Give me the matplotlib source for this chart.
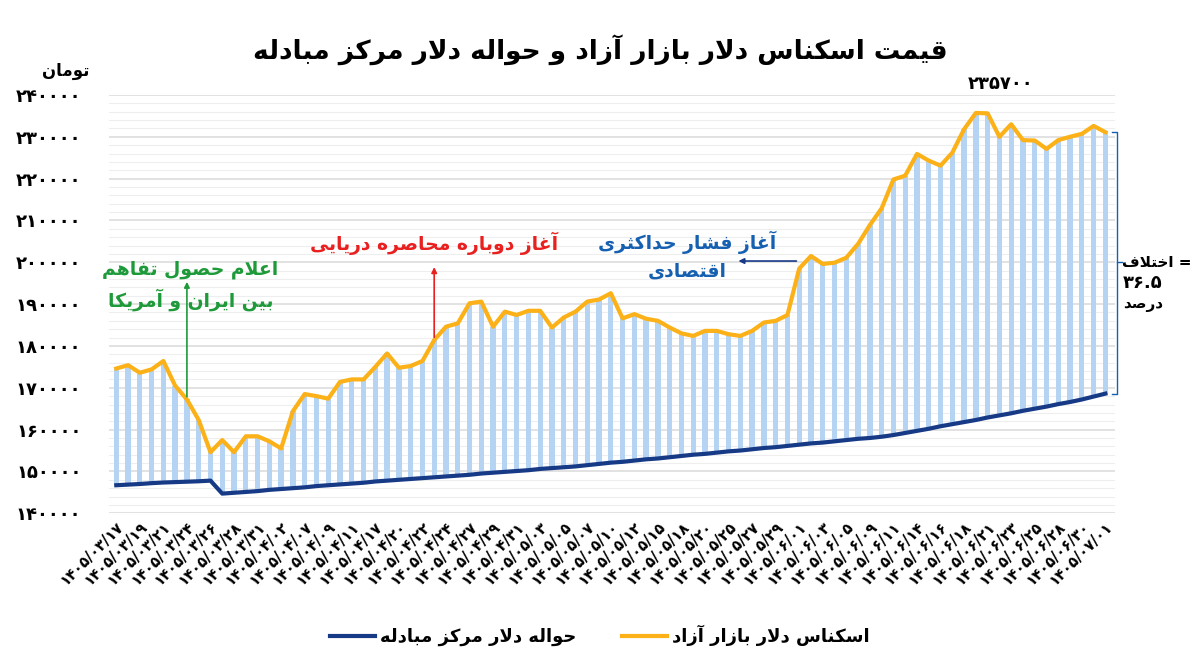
import matplotlib
matplotlib.use("Agg")
import matplotlib.pyplot as plt
from matplotlib.lines import Line2D
import numpy as np

# ---------- minimal Persian shaper ----------
FORMS = {
 'ا':('\uFE8D','\uFE8E',None,None),'آ':('\uFE81','\uFE82',None,None),
 'ب':('\uFE8F','\uFE90','\uFE91','\uFE92'),'پ':('\uFB56','\uFB57','\uFB58','\uFB59'),
 'ت':('\uFE95','\uFE96','\uFE97','\uFE98'),'ث':('\uFE99','\uFE9A','\uFE9B','\uFE9C'),
 'ج':('\uFE9D','\uFE9E','\uFE9F','\uFEA0'),'چ':('\uFB7A','\uFB7B','\uFB7C','\uFB7D'),
 'ح':('\uFEA1','\uFEA2','\uFEA3','\uFEA4'),'خ':('\uFEA5','\uFEA6','\uFEA7','\uFEA8'),
 'د':('\uFEA9','\uFEAA',None,None),'ذ':('\uFEAB','\uFEAC',None,None),
 'ر':('\uFEAD','\uFEAE',None,None),'ز':('\uFEAF','\uFEB0',None,None),
 'ژ':('\uFB8A','\uFB8B',None,None),
 'س':('\uFEB1','\uFEB2','\uFEB3','\uFEB4'),'ش':('\uFEB5','\uFEB6','\uFEB7','\uFEB8'),
 'ص':('\uFEB9','\uFEBA','\uFEBB','\uFEBC'),'ض':('\uFEBD','\uFEBE','\uFEBF','\uFEC0'),
 'ط':('\uFEC1','\uFEC2','\uFEC3','\uFEC4'),'ظ':('\uFEC5','\uFEC6','\uFEC7','\uFEC8'),
 'ع':('\uFEC9','\uFECA','\uFECB','\uFECC'),'غ':('\uFECD','\uFECE','\uFECF','\uFED0'),
 'ف':('\uFED1','\uFED2','\uFED3','\uFED4'),'ق':('\uFED5','\uFED6','\uFED7','\uFED8'),
 'ک':('\uFB8E','\uFB8F','\uFB90','\uFB91'),'گ':('\uFB92','\uFB93','\uFB94','\uFB95'),
 'ل':('\uFEDD','\uFEDE','\uFEDF','\uFEE0'),'م':('\uFEE1','\uFEE2','\uFEE3','\uFEE4'),
 'ن':('\uFEE5','\uFEE6','\uFEE7','\uFEE8'),'و':('\uFEED','\uFEEE',None,None),
 'ه':('\uFEE9','\uFEEA','\uFEEB','\uFEEC'),'ی':('\uFBFC','\uFBFD','\uFBFE','\uFBFF'),
 'LA':('\uFEFB','\uFEFC',None,None),'LAA':('\uFEF5','\uFEF6',None,None),
}
def dual(c): return c in FORMS and FORMS[c][2] is not None
def joins(c): return c in FORMS

def shape(word):
    chars = []
    i = 0
    while i < len(word):
        c = word[i]
        if c == 'ل' and i + 1 < len(word) and word[i+1] in 'اآ':
            chars.append('LA' if word[i+1] == 'ا' else 'LAA'); i += 2
        else:
            chars.append(c); i += 1
    out = []
    for k, c in enumerate(chars):
        if c not in FORMS:
            out.append(c); continue
        prev = chars[k-1] if k > 0 else None
        nxt = chars[k+1] if k + 1 < len(chars) else None
        jp = prev is not None and dual(prev)
        jn = dual(c) and nxt is not None and joins(nxt)
        f = FORMS[c]
        if jp and jn: out.append(f[3])
        elif jp: out.append(f[1])
        elif jn: out.append(f[2])
        else: out.append(f[0])
    return ''.join(out)

def fa(text):
    return '\n'.join(shape(line)[::-1] for line in text.split('\n'))

PD = str.maketrans('0123456789', '۰۱۲۳۴۵۶۷۸۹')
def pd(s): return str(s).translate(PD)

# ---------- data ----------
dates = ['1405/03/17','1405/03/19','1405/03/21','1405/03/24','1405/03/26','1405/03/28',
         '1405/03/31','1405/04/02','1405/04/07','1405/04/09','1405/04/11','1405/04/17',
         '1405/04/20','1405/04/22','1405/04/24','1405/04/27','1405/04/29','1405/04/31',
         '1405/05/03','1405/05/05','1405/05/07','1405/05/10','1405/05/12','1405/05/15',
         '1405/05/18','1405/05/20','1405/05/25','1405/05/27','1405/05/29','1405/06/01',
         '1405/06/03','1405/06/05','1405/06/09','1405/06/11','1405/06/14','1405/06/16',
         '1405/06/18','1405/06/21','1405/06/23','1405/06/25','1405/06/28','1405/06/30',
         '1405/07/01']

free_market = [174600,175400,173600,174400,176400,170500,167200,162300,154600,157500,
               154600,158400,158400,157200,155500,164400,168500,168000,167400,171400,
               172000,172000,175000,178200,174800,175200,176400,181400,184600,185400,
               190200,190600,184600,188200,187400,188400,188400,184400,186800,188200,
               190600,191100,192600,186600,187600,186500,186000,184400,183000,182400,
               183600,183600,182800,182400,183600,185600,186000,187400,198500,201500,
               199600,199900,201100,204400,208900,212900,219800,220700,225900,224300,
               223100,226200,231800,235700,235600,230000,233000,229200,229100,227100,
               229200,230000,230700,232600,231100]

official = [146700,146850,147000,147200,147350,147450,147550,147650,147800,144700,
            144900,145100,145300,145600,145800,146000,146200,146500,146700,146900,
            147100,147300,147600,147800,148000,148200,148400,148600,148800,149000,
            149200,149500,149700,149900,150100,150300,150600,150800,151000,151200,
            151500,151800,152100,152300,152600,152900,153100,153400,153700,154000,
            154200,154500,154800,155000,155300,155600,155800,156100,156400,156700,
            156900,157200,157500,157800,158000,158300,158700,159200,159700,160200,
            160800,161300,161800,162300,162900,163400,163900,164500,165000,165500,
            166100,166600,167200,167900,168600]

yticks = [140000,150000,160000,170000,180000,190000,200000,210000,220000,230000,240000]

ORANGE = '#fbb117'
NAVY = '#173a86'
BAR = '#b5d3f3'

fig = plt.figure(figsize=(12, 6.64), dpi=100)
ax = fig.add_axes([0.091, 0.227, 0.838, 0.63])
x = np.arange(len(free_market))
fm = np.array(free_market); of = np.array(official)

ax.bar(x, fm - of, bottom=of, width=0.45, color=BAR, zorder=2)
ax.plot(x, fm, color=ORANGE, lw=3, zorder=3)
ax.plot(x, of, color=NAVY, lw=3, zorder=3)

ax.set_ylim(140000, 240000)
ax.set_xlim(-0.6, len(x) - 0.2)
ax.set_yticks(yticks)
ax.set_yticks(np.arange(140000, 240001, 2000), minor=True)
ax.set_yticklabels([pd(v) for v in yticks], fontsize=13, fontweight='bold')
ax.grid(axis='y', which='major', color='#dddddd', lw=1.2, zorder=0)
ax.grid(axis='y', which='minor', color='#eeeeee', lw=0.8, zorder=0)
ax.tick_params(axis='y', which='both', length=0, pad=20)
ax.set_xticks(x[::2])
ax.set_xticklabels([pd(d) for d in dates], rotation=45, ha='right',
                   rotation_mode='anchor', fontsize=10.5, fontweight='bold')
ax.tick_params(axis='x', length=0, pad=4)
for s in ax.spines.values():
    s.set_visible(False)

fig.text(0.5, 0.925, fa('قیمت اسکناس دلار بازار آزاد و حواله دلار مرکز مبادله'),
         ha='center', va='center', fontsize=19, fontweight='bold')
fig.text(0.055, 0.893, fa('تومان'), ha='center', va='center', fontsize=12, fontweight='bold')

# peak label
pk = int(np.argmax(fm))
ax.annotate(pd(free_market[pk]), (pk, fm[pk]), xytext=(18, 14), textcoords='offset points',
            ha='center', va='bottom', fontsize=13, fontweight='bold')

# annotations
GREEN = '#1e9a3a'
ax.annotate('', xy=(6, 196000), xytext=(6, fm[6]),
            arrowprops=dict(arrowstyle='-|>', color=GREEN, lw=1.2, mutation_scale=8))
ax.text(6.3, 194500, fa('اعلام حصول تفاهم\nبین ایران و آمریکا'), color=GREEN,
        ha='center', va='center', fontsize=13.5, fontweight='bold', linespacing=1.5)

RED = '#e8201f'
ax.annotate('', xy=(27, 199500), xytext=(27, fm[27]),
            arrowprops=dict(arrowstyle='-|>', color=RED, lw=1.2, mutation_scale=8))
ax.text(27, 204500, fa('آغاز دوباره محاصره دریایی'), color=RED,
        ha='center', va='center', fontsize=13.5, fontweight='bold')

BLUE = '#1560b0'
ax.annotate('', xy=(52.6, 200300), xytext=(58, 200300),
            arrowprops=dict(arrowstyle='-|>', color=NAVY, lw=1.2, mutation_scale=8))
ax.text(48.5, 201600, fa('آغاز فشار حداکثری\nاقتصادی'), color=BLUE,
        ha='center', va='center', fontsize=13.5, fontweight='bold', linespacing=1.5)

# bracket
bx = len(x) - 1 + 1.0
ax.plot([bx - 0.4, bx, bx, bx - 0.4], [fm[-1], fm[-1], of[-1], of[-1]],
        color=BLUE, lw=1, clip_on=False)
ax.plot([bx, bx + 0.4], [200000, 200000], color=BLUE, lw=1, clip_on=False)
ax.text(bx + 0.4, 200000, fa('اختلاف') + ' =', ha='left', va='center', fontsize=11, fontweight='bold')
ax.text(bx + 0.5, 195000, pd('36.5'), ha='left', va='center', fontsize=13, fontweight='bold')
ax.text(bx + 0.5, 190000, fa('درصد'), ha='left', va='center', fontsize=11, fontweight='bold')

handles = [Line2D([], [], color=NAVY, lw=3), Line2D([], [], color=ORANGE, lw=3)]
labels = [fa('حواله دلار مرکز مبادله'), fa('اسکناس دلار بازار آزاد')]
fig.legend(handles, labels, loc='center', bbox_to_anchor=(0.5, 0.043), ncol=2, frameon=False,
           prop=dict(size=13, weight='bold'), handlelength=2.5, columnspacing=2.5, handletextpad=0.3)

fig.savefig('out.png', dpi=100, facecolor='white')
